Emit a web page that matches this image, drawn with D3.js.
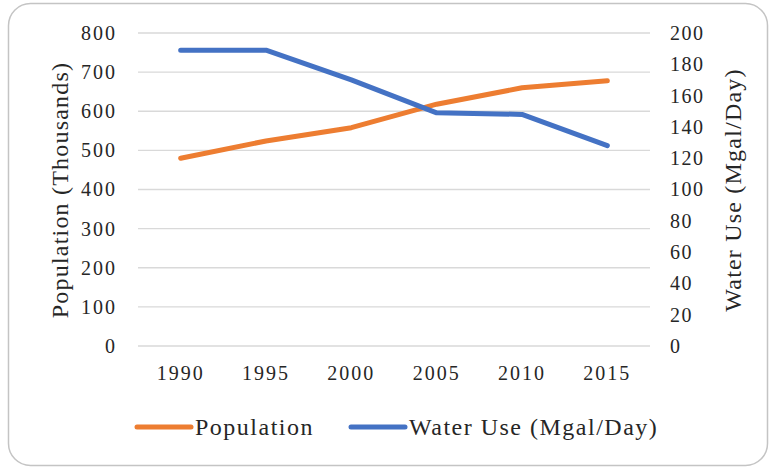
<!DOCTYPE html>
<html>
<head>
<meta charset="utf-8">
<script src="https://cdn.jsdelivr.net/npm/d3@7"></script>
<style>
  body { margin: 0; background: #fff; }
  svg text { font-family: "Liberation Serif", "DejaVu Serif", serif; fill: #262626; }
</style>
</head>
<body>
<div id="chart"></div>
<script>
// chart data
var years = ["1990", "1995", "2000", "2005", "2010", "2015"];
var population = [480, 524, 558, 618, 660, 678];
var waterUse = [189, 189, 170, 149, 148, 128];
var popTicks = [0, 100, 200, 300, 400, 500, 600, 700, 800];
var waterTicks = [0, 20, 40, 60, 80, 100, 120, 140, 160, 180, 200];

var width = 775, height = 469;
var plotLeft = 138, plotRight = 650, plotTop = 33, plotBottom = 346;

var svg = d3.select("#chart").append("svg")
    .attr("width", width)
    .attr("height", height);

// outer rounded frame
svg.append("rect")
    .attr("x", 8.5).attr("y", 3.5)
    .attr("width", 759).attr("height", 462)
    .attr("rx", 22)
    .attr("fill", "#fff")
    .attr("stroke", "#c4c4c4")
    .attr("stroke-width", 1.5);

var x = d3.scaleBand().domain(years).range([plotLeft, plotRight]);
var yPop = d3.scaleLinear().domain([0, 800]).range([plotBottom, plotTop]);
var yWater = d3.scaleLinear().domain([0, 200]).range([plotBottom, plotTop]);

// gridlines
svg.append("g")
  .selectAll("line")
  .data(popTicks)
  .enter()
  .append("line")
    .attr("x1", plotLeft).attr("x2", plotRight)
    .attr("y1", function(d) { return yPop(d); })
    .attr("y2", function(d) { return yPop(d); })
    .attr("stroke", "#d9d9d9")
    .attr("stroke-width", 1.3);

// left axis
var leftAxis = svg.append("g")
    .attr("transform", "translate(" + plotLeft + ",0)")
    .call(d3.axisLeft(yPop).tickValues(popTicks).tickSize(0).tickPadding(21));
leftAxis.select(".domain").remove();
leftAxis.selectAll("text").style("font-size", "20px").style("letter-spacing", "2px");

// right axis
var rightAxis = svg.append("g")
    .attr("transform", "translate(" + plotRight + ",0)")
    .call(d3.axisRight(yWater).tickValues(waterTicks).tickSize(0).tickPadding(20));
rightAxis.select(".domain").remove();
rightAxis.selectAll("text").style("font-size", "20px").style("letter-spacing", "1.5px");

// bottom axis
var bottomAxis = svg.append("g")
    .attr("transform", "translate(0," + plotBottom + ")")
    .call(d3.axisBottom(x).tickSize(0).tickPadding(20));
bottomAxis.select(".domain").remove();
bottomAxis.selectAll("text").style("font-size", "20px").style("letter-spacing", "2px");

// axis titles
svg.append("text")
    .attr("transform", "translate(68,190) rotate(-90)")
    .attr("text-anchor", "middle")
    .style("font-size", "24px")
    .style("letter-spacing", "1.2px")
    .text("Population (Thousands)");

svg.append("text")
    .attr("transform", "translate(741,190) rotate(-90)")
    .attr("text-anchor", "middle")
    .style("font-size", "24px")
    .style("letter-spacing", "1.2px")
    .text("Water Use (Mgal/Day)");

// lines
function cx(d, i) { return x(years[i]) + x.bandwidth() / 2; }

svg.append("path")
    .datum(population)
    .attr("fill", "none")
    .attr("stroke", "#ED7D31")
    .attr("stroke-width", 5)
    .attr("stroke-linecap", "round")
    .attr("stroke-linejoin", "round")
    .attr("d", d3.line().x(cx).y(function(d) { return yPop(d); }));

svg.append("path")
    .datum(waterUse)
    .attr("fill", "none")
    .attr("stroke", "#4472C4")
    .attr("stroke-width", 5)
    .attr("stroke-linecap", "round")
    .attr("stroke-linejoin", "round")
    .attr("d", d3.line().x(cx).y(function(d) { return yWater(d); }));

// legend
var legend = [
  { name: "Population", color: "#ED7D31", x: 137 },
  { name: "Water Use (Mgal/Day)", color: "#4472C4", x: 351 }
];
var lg = svg.append("g")
  .selectAll("g")
  .data(legend)
  .enter()
  .append("g")
    .attr("transform", function(d) { return "translate(" + d.x + ",427)"; });
lg.append("line")
    .attr("x1", 0).attr("x2", 54)
    .attr("stroke", function(d) { return d.color; })
    .attr("stroke-width", 5)
    .attr("stroke-linecap", "round");
lg.append("text")
    .attr("x", 58)
    .attr("dy", "0.35em")
    .style("font-size", "24px")
    .style("letter-spacing", "1.5px")
    .text(function(d) { return d.name; });
</script>
</body>
</html>
